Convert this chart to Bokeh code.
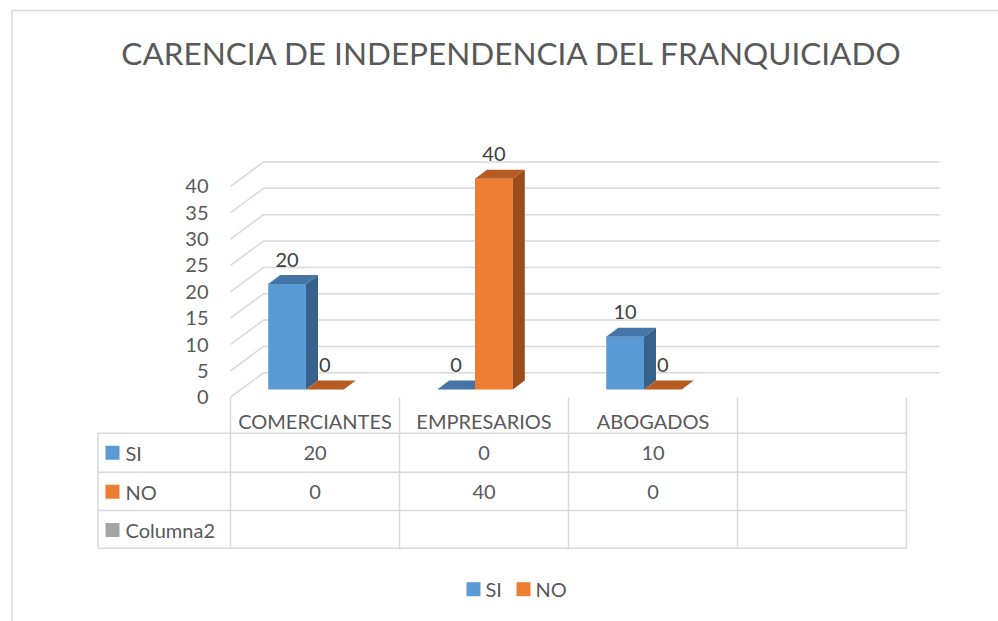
from bokeh.plotting import figure
from bokeh.models import Range1d
from bokeh.core.properties import value
from bokeh.embed import file_html
from bokeh.resources import INLINE

# ---------------- data ----------------
title = "CARENCIA DE INDEPENDENCIA DEL FRANQUICIADO"
categories = ["COMERCIANTES", "EMPRESARIOS", "ABOGADOS", ""]
si_values = [20, 0, 10]
no_values = [0, 40, 0]
series_names = ["SI", "NO", "Columna2"]
y_ticks = [0, 5, 10, 15, 20, 25, 30, 35, 40]

# ---------------- styles ----------------
FONT = value("Lato")
TXT = "#595959"
GRID = "#D9D9D9"
FS = "20px"
front_col = ["#5B9BD5", "#ED7D31", "#A5A5A5"]
top_col = ["#4375A6", "#B65C22", "#808080"]
side_col = ["#37628C", "#9A4C1A", "#6E6E6E"]

# layout scale: one category slot = 169 px, one value unit = 5.27 px
SLOT = 169.0
UNIT = 5.27
X0 = 230.0      # page x of the front-left floor corner
Y0 = 396.7      # page y of the front-left floor corner


def X(px):
    return (px - X0) / SLOT


def Y(py):
    return (Y0 - py) / UNIT


W, H = 998, 621
p = figure(width=W, height=H, output_backend="svg", toolbar_location=None,
           x_range=Range1d(X(0), X(W)), y_range=Range1d(Y(H), Y(0)),
           x_axis_location=None, y_axis_location=None, min_border=0,
           background_fill_color="white", border_fill_color="white")
p.outline_line_color = None
p.xgrid.visible = False
p.ygrid.visible = False

# outer chart border (left and top visible)
p.line([X(11.5), X(11.5), X(1010)], [Y(640), Y(10), Y(10)], line_color=GRID, line_width=1.5)

# title
p.text(x=[X(512)], y=[Y(52.8)], text=[title], text_font=FONT, text_font_size="31.5px",
       text_color=TXT, text_align="center", text_baseline="middle")

# ---------------- 3D walls ----------------
WALL_DX = 33 / SLOT
WALL_DY = 24.4 / UNIT
n_slots = len(categories)
for v in y_ticks:
    p.line([0, WALL_DX, n_slots + WALL_DX], [v, v + WALL_DY, v + WALL_DY],
           line_color=GRID, line_width=1.5)
p.text(x=[X(208)] * len(y_ticks), y=y_ticks,
       text=[str(v) for v in y_ticks], text_font=FONT, text_font_size=FS,
       text_color=TXT, text_align="right", text_baseline="middle")

# ---------------- 3D bars ----------------
BAR_OFF = 37.7 / SLOT   # front face start within slot
BAR_W = 37.8 / SLOT
BASE = 7.7 / UNIT       # bars stand a little back from the front floor edge
DDX = 12 / SLOT
DDY = 9 / UNIT

series_vals = [si_values, no_values]
lab_x, lab_y, lab_t = [], [], []
for i in range(len(si_values)):
    for s, vals in enumerate(series_vals):
        v = vals[i]
        x0 = i + BAR_OFF + s * BAR_W
        x1 = x0 + BAR_W
        b = BASE
        t = BASE + v
        # front
        p.quad(left=[x0], right=[x1], bottom=[b], top=[t], fill_color=front_col[s],
               line_color=None)
        # side
        p.patch([x1, x1 + DDX, x1 + DDX, x1], [b, b + DDY, t + DDY, t],
                fill_color=side_col[s], line_color=None)
        # top
        p.patch([x0, x1, x1 + DDX, x0 + DDX], [t, t, t + DDY, t + DDY],
                fill_color=top_col[s], line_color=None)
        lab_x.append((x0 + x1) / 2)
        lab_y.append(t + 24.5 / UNIT)
        lab_t.append(str(v))

p.text(x=lab_x, y=lab_y, text=lab_t, text_font=FONT, text_font_size=FS,
       text_color="#404040", text_align="center", text_baseline="middle")

# ---------------- data table ----------------
row_lines = [432.7, 471.7, 510.0, 547.7]
col_lines = [X0 + SLOT * k for k in range(n_slots + 1)]
TL = 97.5
for ry in row_lines:
    p.line([X(TL), X(col_lines[-1])], [Y(ry), Y(ry)], line_color=GRID, line_width=1.5)
p.line([X(TL), X(TL)], [Y(row_lines[0]), Y(row_lines[-1])], line_color=GRID, line_width=1.5)
for cx in col_lines:
    p.line([X(cx), X(cx)], [Y(Y0), Y(row_lines[-1])], line_color=GRID, line_width=1.5)

# category header row
p.text(x=[k + 0.5 for k in range(n_slots)], y=[Y(420)] * n_slots, text=categories,
       text_font=FONT, text_font_size=FS, text_color=TXT,
       text_align="center", text_baseline="middle")

row_vals = [si_values, no_values, [None] * len(si_values)]
for r, name in enumerate(series_names):
    cy = row_lines[r] + 19.5
    p.quad(left=[X(105)], right=[X(119)], top=[Y(cy - 7)], bottom=[Y(cy + 7)],
           fill_color=front_col[r], line_color=None)
    p.text(x=[X(125)], y=[Y(cy)], text=[name], text_font=FONT,
           text_font_size=FS, text_color=TXT, text_align="left",
           text_baseline="middle")
    vals = row_vals[r]
    txt = ["" if v is None else str(v) for v in vals]
    p.text(x=[k + 0.5 for k in range(len(vals))], y=[Y(cy)] * len(vals), text=txt,
           text_font=FONT, text_font_size=FS, text_color=TXT,
           text_align="center", text_baseline="middle")

# ---------------- legend ----------------
leg_x = [466, 516]
for s, name in enumerate(series_names[:2]):
    p.quad(left=[X(leg_x[s])], right=[X(leg_x[s] + 14)], top=[Y(581.7)], bottom=[Y(595.7)],
           fill_color=front_col[s], line_color=None)
    p.text(x=[X(leg_x[s] + 19)], y=[Y(588.7)], text=[name], text_font=FONT,
           text_font_size=FS, text_color=TXT, text_align="left",
           text_baseline="middle")

open("out.html", "w").write(file_html(p, INLINE))
